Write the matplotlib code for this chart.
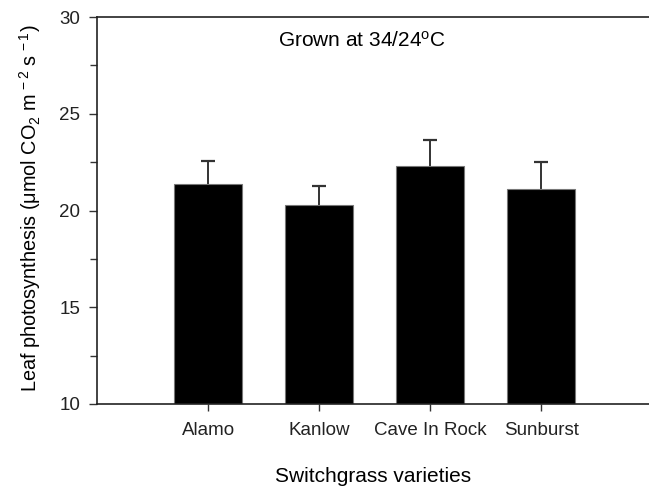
import matplotlib
matplotlib.use('Agg')
import matplotlib.pyplot as plt
from matplotlib.ticker import MultipleLocator

plt.rcParams['font.family'] = 'Liberation Sans'
plt.rcParams['mathtext.fontset'] = 'custom'
plt.rcParams['mathtext.rm'] = 'Liberation Sans'
plt.rcParams['mathtext.it'] = 'Liberation Sans'
plt.rcParams['mathtext.default'] = 'regular'

# bar heights and upper error bars
varieties = ['Alamo', 'Kanlow', 'Cave In Rock', 'Sunburst']
photosynthesis = [21.38, 20.30, 22.32, 21.10]
errors = [1.18, 0.98, 1.31, 1.39]

fig = plt.figure(figsize=(6.49, 4.87), dpi=100)
# axes run off the right edge, like the cropped original
ax = fig.add_axes([97/649, 1 - 404/487, 552/649, 387/487])

x = list(range(len(varieties)))
ax.bar(x, photosynthesis, width=0.61, color='black', edgecolor='#777777', linewidth=0.8,
       zorder=2)
eb = ax.errorbar(x, photosynthesis, yerr=[[0]*len(errors), errors], fmt='none',
                 ecolor='#333333', elinewidth=1.4, capsize=5, capthick=1.6, zorder=1)
eb[1][0].set_visible(False)  # hide lower caps

ax.set_xlim(-1.0, 3.97)
ax.set_ylim(10, 30)
ax.set_xticks(x)
ax.set_xticklabels(varieties, fontsize=13.5)
ax.yaxis.set_major_locator(MultipleLocator(5))
ax.yaxis.set_minor_locator(MultipleLocator(2.5))
ax.tick_params(axis='y', which='major', direction='out', length=6, width=1, labelsize=13.5,
               color='#333333', labelcolor='#222222', pad=6)
ax.tick_params(axis='y', which='minor', direction='out', length=5, width=1, color='#333333')
ax.tick_params(axis='x', direction='out', length=5, width=1, color='#333333',
               labelcolor='#222222', pad=8)

ax.spines['right'].set_visible(False)
for s in ['left', 'top', 'bottom']:
    ax.spines[s].set_color('#222222')
    ax.spines[s].set_linewidth(1.2)

ax.set_xlabel('Switchgrass varieties', fontsize=15, labelpad=20)
ax.set_ylabel(r'Leaf photosynthesis ($\mu$mol CO$_2$ m$^{\,-2}$ s$^{\,-1}$)', fontsize=14.3)
ax.yaxis.set_label_coords(-0.097, 0.505)
ax.text(0.48, 0.94, r'Grown at 34/24$^{o}$C', transform=ax.transAxes, ha='center',
        va='center', fontsize=15)

fig.savefig('out.png', dpi=100)
